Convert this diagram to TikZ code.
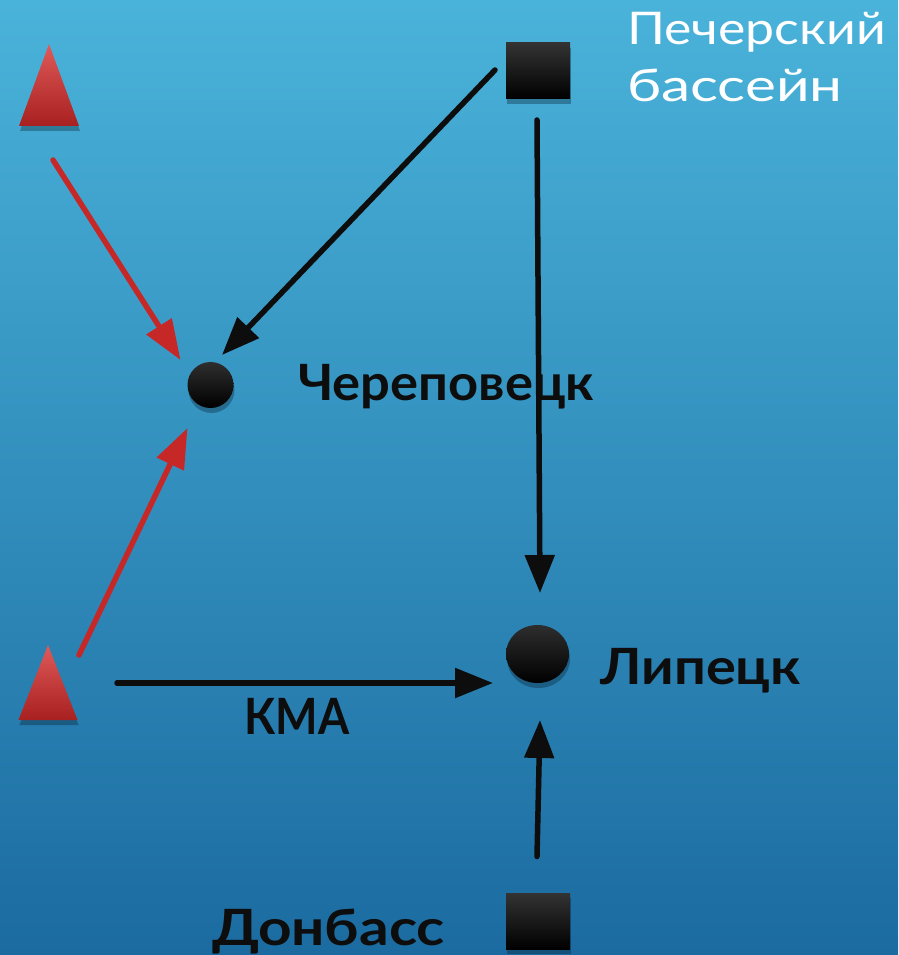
\documentclass[tikz,border=0pt]{standalone}
\usepackage{fontspec}
\setmainfont{Lato}
\usetikzlibrary{arrows.meta,shapes.geometric,shadows}

\definecolor{bgtop}{HTML}{4AB3DA}
\definecolor{bgbot}{HTML}{1B6BA0}
\definecolor{orered}{HTML}{C62828}
\definecolor{oretop}{HTML}{E05A5A}
\definecolor{orebot}{HTML}{A82020}
\definecolor{ink}{HTML}{0D0D0D}

\tikzset{
  shadowed/.style={drop shadow={shadow xshift=1pt,shadow yshift=-5pt,opacity=0.35,fill=black!70!bgbot}},
  mine/.style={isosceles triangle,shape border rotate=90,isosceles triangle stretches,
    minimum width=60pt,minimum height=82pt,inner sep=0pt,outer sep=0pt,
    top color=oretop,bottom color=orebot,shadowed},
  basin/.style={rectangle,minimum width=64pt,minimum height=56pt,inner sep=0pt,outer sep=0pt,
    top color=black!80,bottom color=black,shadowed},
  plant/.style={ellipse,inner sep=0pt,outer sep=0pt,top color=black!82,bottom color=black,shadowed},
  orearrow/.style={draw=orered,line width=5.5pt,line cap=round,-{Triangle[length=40pt,width=29pt]}},
  coalarrow/.style={draw=ink,line width=5.5pt,line cap=round,-{Triangle[length=38pt,width=29pt]}},
  city/.style={inner sep=0pt,text=ink,font=\fontsize{50}{60}\selectfont\bfseries\addfontfeatures{FakeStretch=#1}},
  city/.default=1,
  basinname/.style={inner sep=0pt,text=white,font=\fontsize{45}{54}\selectfont\addfontfeatures{FakeStretch=#1}},
  basinname/.default=1.15
}

\begin{document}
\begin{tikzpicture}[x=1pt,y=-1pt]
% background
\fill[top color=bgtop,bottom color=bgbot] (0,0) rectangle (898,955);

% ore, coal and plants
\node[mine,anchor=apex] (oreN) at (49,44) {};
\node[mine,anchor=apex,minimum width=59pt,minimum height=75pt] (oreK) at (48,645) {};
\node[basin] (coalP) at (538,71) {};
\node[basin] (coalD) at (538,921) {};
\node[plant,minimum size=46pt] (cher) at (210.5,385) {};
\node[plant,minimum width=63pt,minimum height=58pt] (lip) at (537.5,654) {};

% labels
\node[city=1.05,anchor=base west] (cherL) at (298,400) {Череповецк};
\node[city=1.12,anchor=base west] (lipL) at (600,684) {Липецк};
\node[city=0.9,anchor=base west] (kmaL) at (244,734) {КМА};
\node[city=1.17,anchor=base west] (donL) at (212,945) {Донбасс};
\node[basinname,anchor=base west] (pechL) at (627,45) {Печерский};
\node[basinname=1.3,anchor=base west] (pechL2) at (627,102) {бассейн};

% ore deliveries
\draw[orearrow] ([shift={(4,116)}]oreN.apex) -- ([shift={(-30,-25)}]cher.center);
\draw[orearrow] ([shift={(31,10)}]oreK.apex) -- ([shift={(-23,43)}]cher.center);
% coal deliveries
\draw[coalarrow] ([shift={(-11,-1)}]coalP.west) -- ([shift={(11.5,-30)}]cher.center);
\draw[coalarrow] ([shift={(-1,21)}]coalP.south) -- ([shift={(2.5,-61)}]lip.center);
\draw[coalarrow] ([shift={(69,38)}]oreK.apex) -- ([shift={(-44.5,29)}]lip.center);
\draw[coalarrow] ([shift={(-1,-36.5)}]coalD.north) -- ([shift={(2.5,66)}]lip.center);
\end{tikzpicture}
\end{document}
